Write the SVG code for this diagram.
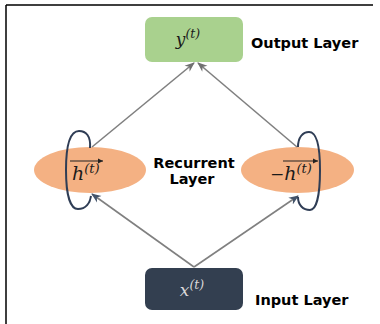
<svg xmlns="http://www.w3.org/2000/svg" width="380" height="324" viewBox="0 0 380 324">
<style>
.lbl{font-family:"DejaVu Sans",sans-serif;font-weight:bold;font-size:14.5px;fill:#000}
.math{font-family:"DejaVu Serif","Liberation Serif",serif;font-style:italic}
.con{stroke:#808080;stroke-width:1.6;fill:none}
.loop{stroke:#2f3d55;stroke-width:2;fill:none}
</style>
<defs>
<marker id="ag" markerWidth="10" markerHeight="10" refX="9" refY="5" orient="auto" markerUnits="userSpaceOnUse">
<path d="M0,1 L10,5 L0,9 L3,5 z" fill="#707070"/>
</marker>
<marker id="an" markerWidth="10" markerHeight="10" refX="9" refY="5" orient="auto" markerUnits="userSpaceOnUse">
<path d="M0,1 L10,5 L0,9 L3,5 z" fill="#44546a"/>
</marker>
<marker id="ov" markerWidth="6" markerHeight="6" refX="5" refY="3" orient="auto" markerUnits="userSpaceOnUse">
<path d="M0,0.5 L5,3 L0,5.5 z" fill="#222"/>
</marker>
</defs>
<rect width="380" height="324" fill="#fff"/>
<path d="M6,5 H373 M6,5 V324" stroke="#000" stroke-width="1.5" fill="none"/>

<g id="output">
<rect x="145" y="17" width="98" height="45" rx="7" fill="#a9d18e"/>
<text x="188" y="45" text-anchor="middle" class="math" font-size="17" fill="#1a1a1a">y<tspan font-size="12.5" dy="-7">(t)</tspan></text>
</g>
<text id="output-label" class="lbl" x="251" y="47.5">Output Layer</text>

<g id="h-forward">
<ellipse cx="90" cy="170" rx="56" ry="23" fill="#f4b183"/>
<text x="72" y="180" class="math" font-size="19" fill="#1a1a1a">h<tspan font-size="13" dy="-7">(t)</tspan></text>
<line x1="70" y1="161" x2="103" y2="161" stroke="#222" stroke-width="1.2" marker-end="url(#ov)"/>
</g>
<g id="h-backward">
<ellipse cx="297.5" cy="170" rx="56.5" ry="23" fill="#f4b183"/>
<text x="270" y="180" class="math" font-size="19" fill="#1a1a1a"><tspan font-style="normal" font-size="17">−</tspan>h<tspan font-size="13" dy="-7">(t)</tspan></text>
<line x1="283" y1="161" x2="318" y2="161" stroke="#222" stroke-width="1.2" marker-end="url(#ov)"/>
</g>
<text id="recurrent-label" class="lbl" text-anchor="middle"><tspan x="194" y="168">Recurrent</tspan><tspan x="192" y="184">Layer</tspan></text>

<g id="input">
<rect x="145" y="268" width="98" height="42" rx="7" fill="#333f50"/>
<text x="192" y="296" text-anchor="middle" class="math" font-size="17" fill="#d9d9d9">x<tspan font-size="12.5" dy="-7">(t)</tspan></text>
</g>
<text id="input-label" class="lbl" x="255" y="305">Input Layer</text>

<g id="connectors">
<line class="con" x1="92" y1="147" x2="194" y2="63" marker-end="url(#ag)"/>
<line class="con" x1="297" y1="147" x2="198" y2="63" marker-end="url(#ag)"/>
<line class="con" x1="194" y1="267" x2="92" y2="194" marker-end="url(#an)"/>
<line class="con" x1="194" y1="267" x2="298" y2="196" marker-end="url(#an)"/>
<path class="loop" d="M90,148 C91,136 86,131 79,131 C70,131 66,145 66,170 C66,197 71,209 78,209 C86,209 90,203 91,196"/>
<path class="loop" d="M298,147 C298,137 303,132 309,132 C317,132 320,146 320,170 C320,197 316,210 310,210 C303,210 298,205 298,197"/>
</g>
</svg>
